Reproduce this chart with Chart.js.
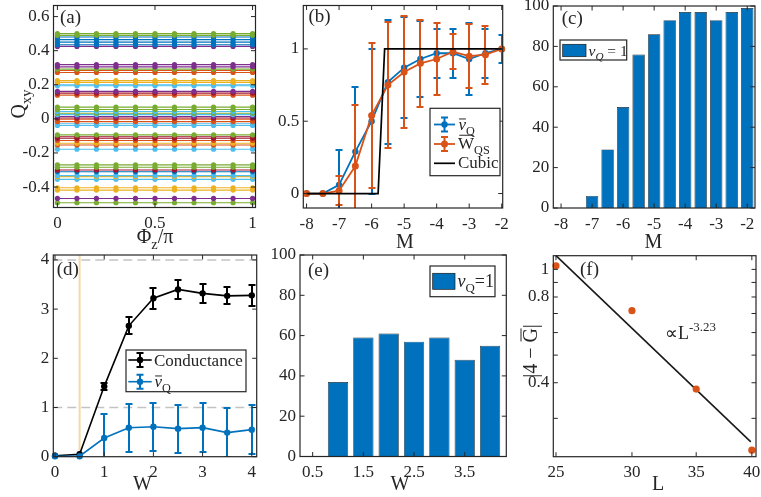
<!DOCTYPE html>
<html><head><meta charset="utf-8">
<script src="https://cdn.jsdelivr.net/npm/chart.js@4.4.1/dist/chart.umd.min.js"></script>
<style>
html,body{margin:0;padding:0;background:#fff;}
#wrap{position:relative;width:761px;height:497px;overflow:hidden;background:#fff;}
#wrap canvas{position:absolute;}
</style></head><body><div id="wrap"></div>
<script>
// ================= DATA =================
// (a) Q_xy vs Phi_z/pi : each line is constant over phi
const phiX = [0, 0.1, 0.2, 0.3, 0.4, 0.5, 0.6, 0.7, 0.8, 0.9, 1];
const qLevels = [0.500, 0.490, 0.480, 0.465, 0.450, 0.435, 0.425,
  0.318, 0.305, 0.292, 0.284, 0.272, 0.224, 0.214, 0.200, 0.194,
  0.161, 0.151, 0.139, 0.069, 0.055, 0.043, 0.033, 0.025, 0.014, 0.005,
  -0.002, -0.016, -0.029, -0.039, -0.094, -0.105, -0.114, -0.127, -0.143,
  -0.153, -0.178, -0.270, -0.284, -0.300, -0.310, -0.333, -0.339, -0.355,
  -0.404, -0.418, -0.467, -0.492];
const aXTicks = [0, 0.5, 1];
const aYTicks = [-0.4, -0.2, 0, 0.2, 0.4, 0.6];

// (b) averages vs M
const bM = [-8, -7.5, -7, -6.5, -6, -5.5, -5, -4.5, -4, -3.5, -3, -2.5, -2];
const nuQ = [0, 0, 0.06, 0.29, 0.50, 0.77, 0.87, 0.93, 0.97, 0.97, 0.93, 0.97, 1.0];
const nuQErr = [0, 0, 0.24, 0.45, 0.50, 0.43, 0.35, 0.26, 0.17, 0.17, 0.25, 0.17, 0.095];
const wQS = [0, 0, 0.02, 0.19, 0.54, 0.75, 0.84, 0.90, 0.93, 0.98, 0.95, 0.96, 1.0];
const wQSErr = [0, 0, 0.10, 0.42, 0.50, 0.435, 0.39, 0.30, 0.25, 0.12, 0.22, 0.20, 0];
const cubicM = [-8, -5.8, -5.6, -2];
const cubicV = [0, 0, 1, 1];
const bXTicks = [-8, -7, -6, -5, -4, -3, -2];
const bYTicks = [0, 0.5, 1];

// (c) percentage nu_Q = 1 vs M
const cM = [-8, -7.5, -7, -6.5, -6, -5.5, -5, -4.5, -4, -3.5, -3, -2.5, -2];
const cPct = [0, 0, 6, 29, 50, 76, 86, 93, 97, 97, 93, 97, 99];
const cYTicks = [0, 20, 40, 60, 80, 100];

// (d) conductance and nu_Q vs W
const dW = [0, 0.5, 1, 1.5, 2, 2.5, 3, 3.5, 4];
const condG = [0.02, 0.05, 1.43, 2.66, 3.22, 3.40, 3.32, 3.27, 3.28];
const condErr = [0, 0, 0.07, 0.17, 0.21, 0.20, 0.20, 0.17, 0.21];
const dNu = [0.01, 0.01, 0.38, 0.59, 0.61, 0.57, 0.59, 0.49, 0.55];
const dNuErr = [0, 0, 0.48, 0.49, 0.49, 0.49, 0.50, 0.49, 0.50];
const dRefY = [1, 4];
const dMarkW = [0.5];
const dXTicks = [0, 1, 2, 3, 4];
const dYTicks = [0, 1, 2, 3, 4];

// (e) percentage nu_Q = 1 vs W
const eW = [0.5, 1, 1.5, 2, 2.5, 3, 3.5, 4];
const ePct = [0, 37, 59, 61, 57, 59, 48, 55];
const eXTicks = [0.5, 1.5, 2.5, 3.5];

// (f) |4 - G| vs L (log-log)
const fL = [25, 30, 35, 40];
const fDev = [1.03, 0.716, 0.38, 0.232];
const fitL = [25, 39.9];
const fitDev = [1.117, 0.248];
const fXTicks = [25, 30, 35, 40];
const fYTicks = [0.4, 0.8, 1];
const fYMinor = [0.3, 0.5, 0.6, 0.7, 0.9];

// ================= STYLE / LAYOUT =================
const MC = {B:'#0072BD', O:'#D95319', Y:'#EDB120', P:'#7E2F8E', G:'#77AC30', LB:'#4DBEEE', R:'#A2142F'};
const qColorKeys = ['G','G','B','B','B','B','P','P','P','G','O','O','Y','Y','LB','LB',
  'P','R','O','G','G','LB','G','LB','P','R','O','O','LB','LB','G','R','R','O','Y',
  'O','LB','G','G','R','B','LB','Y','LB','Y','Y','P','G'];
const OFF = 50, CW = 861, CH = 597, YW = 45, XH = 30;
const FONT = "'Liberation Serif','Times New Roman',serif";
const TXT = '#262626';
Chart.defaults.font.family = FONT;
Chart.defaults.color = TXT;

function rt(ctx, segs, x, y, size, align) {
  const parts = segs.map(s => {
    const fs = (s.sub || s.sup) ? size * 0.72 : size;
    const font = (s.i ? 'italic ' : '') + fs + 'px ' + FONT;
    ctx.font = font;
    return {s, fs, font, w: ctx.measureText(s.t).width};
  });
  const total = parts.reduce((a, p) => a + p.w + (p.s.dx || 0), 0);
  let cx = align === 'center' ? x - total / 2 : align === 'right' ? x - total : x;
  ctx.textAlign = 'left'; ctx.textBaseline = 'alphabetic';
  for (const p of parts) {
    cx += p.s.dx || 0;
    ctx.font = p.font; ctx.fillStyle = TXT;
    const dy = p.s.sub ? size * 0.3 : p.s.sup ? -size * 0.42 : 0;
    ctx.fillText(p.s.t, cx, y + dy);
    if (p.s.o) {
      ctx.save(); ctx.strokeStyle = TXT; ctx.lineWidth = 1;
      ctx.beginPath();
      const oy = y + dy - p.fs * p.s.o;
      ctx.moveTo(cx + p.w * 0.08 + (p.s.ox || 0), oy); ctx.lineTo(cx + p.w * 0.98 + (p.s.ox || 0), oy);
      ctx.stroke(); ctx.restore();
    }
    cx += p.w;
  }
}
function rtRot(ctx, segs, x, y, size) {
  ctx.save(); ctx.translate(x, y); ctx.rotate(-Math.PI / 2);
  rt(ctx, segs, 0, 0, size, 'center'); ctx.restore();
}

const framePlugin = {
  id: 'frame',
  afterDatasetsDraw(chart, args, opts) {
    const ctx = chart.ctx, a = chart.chartArea, xs = chart.scales.x, ys = chart.scales.y;
    ctx.save(); ctx.strokeStyle = TXT; ctx.lineWidth = 1;
    const TL = 4.5;
    const xt = xs.ticks.map(t => t.value).concat(opts.xMinor || []);
    const yt = ys.ticks.map(t => t.value).concat(opts.yMinor || []);
    ctx.beginPath();
    xt.forEach(v => { const p = xs.getPixelForValue(v);
      ctx.moveTo(p, a.bottom); ctx.lineTo(p, a.bottom - TL); ctx.moveTo(p, a.top); ctx.lineTo(p, a.top + TL); });
    yt.forEach(v => { const p = ys.getPixelForValue(v);
      ctx.moveTo(a.left, p); ctx.lineTo(a.left + TL, p); ctx.moveTo(a.right, p); ctx.lineTo(a.right - TL, p); });
    ctx.stroke();
    ctx.lineWidth = 1.2;
    ctx.strokeRect(a.left, a.top, a.right - a.left, a.bottom - a.top);
    ctx.restore();
  }
};
const errPlugin = {
  id: 'errbars',
  beforeDatasetDraw(chart, args) {
    const ds = chart.data.datasets[args.index];
    if (!ds.errs) return;
    const ctx = chart.ctx, a = chart.chartArea, xs = chart.scales.x, ys = chart.scales.y;
    ctx.save(); ctx.beginPath(); ctx.rect(a.left, a.top, a.right - a.left, a.bottom - a.top); ctx.clip();
    ctx.strokeStyle = ds.borderColor; ctx.lineWidth = 2;
    const cw = 3.5;
    ds.data.forEach((p, i) => {
      const e = ds.errs[i]; if (!e) return;
      const px = Math.round(xs.getPixelForValue(p.x));
      const y1 = Math.round(ys.getPixelForValue(p.y - e)), y2 = Math.round(ys.getPixelForValue(p.y + e));
      ctx.beginPath();
      ctx.moveTo(px, y1); ctx.lineTo(px, y2);
      ctx.moveTo(px - cw, y1); ctx.lineTo(px + cw, y1);
      ctx.moveTo(px - cw, y2); ctx.lineTo(px + cw, y2);
      ctx.stroke();
    });
    ctx.restore();
  }
};
Chart.register(framePlugin, errPlugin);

function axis(horiz, type, min, max, ticks, fontSize) {
  return {
    type, min, max, offset: false,
    grid: {display: false, drawTicks: false, offset: false}, border: {display: false},
    afterBuildTicks: s => { s.ticks = ticks.map(v => ({value: v})); },
    afterFit: s => { if (horiz) s.height = XH; else s.width = YW; },
    ticks: {autoSkip: false, maxRotation: 0, minRotation: 0, padding: horiz ? 6 : 4,
      font: {size: fontSize || 17, family: FONT}, color: TXT, callback: v => String(v)}
  };
}
function makeChart(rect, cfg, minor, deco) {
  const c = document.createElement('canvas');
  c.width = CW; c.height = CH;
  c.style.left = -OFF + 'px'; c.style.top = -OFF + 'px';
  c.style.width = CW + 'px'; c.style.height = CH + 'px';
  document.getElementById('wrap').appendChild(c);
  const [l, t, r, b] = rect;
  cfg.options = Object.assign({
    responsive: false, animation: false, devicePixelRatio: 1,
    events: [],
    layout: {padding: {left: l + OFF - YW, top: t + OFF, right: CW - (r + OFF), bottom: CH - (b + OFF) - XH}},
  }, cfg.options);
  cfg.options.plugins = Object.assign({legend: {display: false}, tooltip: {enabled: false}, frame: minor || {}}, cfg.options.plugins || {});
  cfg.plugins = [{
    id: 'deco',
    beforeDatasetsDraw(chart) { if (deco && deco.before) { chart.ctx.save(); deco.before(chart); chart.ctx.restore(); } },
    afterDraw(chart) { if (deco && deco.after) { const ctx = chart.ctx; ctx.save(); ctx.translate(OFF, OFF); deco.after(ctx, chart); ctx.restore(); } }
  }];
  return new Chart(c, cfg);
}
const pts = (xs, ys) => xs.map((x, i) => ({x, y: ys[i]}));
function lineDs(data, color, o) {
  return Object.assign({data, borderColor: color, backgroundColor: color, showLine: true, borderWidth: 1.8,
    pointRadius: 3.2, pointBorderWidth: 0, pointBackgroundColor: color, clip: false}, o || {});
}
function legendBox(ctx, x1, y1, x2, y2) {
  ctx.fillStyle = '#fff'; ctx.fillRect(x1, y1, x2 - x1, y2 - y1);
  ctx.strokeStyle = TXT; ctx.lineWidth = 1.2; ctx.strokeRect(x1, y1, x2 - x1, y2 - y1);
}
function legendLine(ctx, x1, x2, y, color, marker, err, lw) {
  ctx.strokeStyle = color; ctx.lineWidth = lw || 1.8;
  ctx.beginPath(); ctx.moveTo(x1, y); ctx.lineTo(x2, y); ctx.stroke();
  const xm = (x1 + x2) / 2;
  if (err) {
    ctx.lineWidth = 2; ctx.beginPath();
    ctx.moveTo(xm, y - err); ctx.lineTo(xm, y + err);
    ctx.moveTo(xm - 3.5, y - err); ctx.lineTo(xm + 3.5, y - err);
    ctx.moveTo(xm - 3.5, y + err); ctx.lineTo(xm + 3.5, y + err);
    ctx.stroke();
  }
  if (marker) { ctx.fillStyle = color; ctx.beginPath(); ctx.arc(xm, y, marker, 0, 2 * Math.PI); ctx.fill(); }
}
function legendPatch(ctx, x1, y1, x2, y2) {
  ctx.fillStyle = MC.B; ctx.fillRect(x1, y1, x2 - x1, y2 - y1);
  ctx.strokeStyle = '#1a1a1a'; ctx.lineWidth = 0.7; ctx.strokeRect(x1, y1, x2 - x1, y2 - y1);
}
function panelLabel(ctx, s, x, y) { rt(ctx, [{t: s}], x, y, 19, 'left'); }
const AX = 20;

// ================= (a) =================
makeChart([53.5, 5.5, 255.5, 207.5], {
  type: 'scatter',
  data: {datasets: qLevels.map((lv, i) => lineDs(phiX.map(x => ({x, y: lv})), MC[qColorKeys[i]],
    {borderWidth: 1.1, pointRadius: 2.6}))},
  options: {scales: {x: axis(true, 'linear', -0.02, 1.015, aXTicks), y: axis(false, 'linear', -0.52, 0.665, aYTicks)}}
}, {}, {
  after(ctx) {
    panelLabel(ctx, '(a)', 60, 23);
    rtRot(ctx, [{t: 'Q'}, {t: 'xy', sub: 1}], 25, 104, AX);
    rt(ctx, [{t: 'Φ'}, {t: 'z', sub: 1}, {t: '/π'}], 155, 243, AX, 'center');
  }
});

// ================= (b) =================
makeChart([303.3, 5.5, 502.7, 208], {
  type: 'scatter',
  data: {datasets: [
    lineDs(pts(cubicM, cubicV), '#000000', {pointRadius: 0, borderWidth: 1.7}),
    lineDs(pts(bM, wQS), MC.O, {errs: wQSErr, pointRadius: 3.5}),
    lineDs(pts(bM, nuQ), MC.B, {errs: nuQErr, pointRadius: 3.2})
  ]},
  options: {scales: {x: axis(true, 'linear', -8.1, -1.97, bXTicks), y: axis(false, 'linear', -0.1, 1.3, bYTicks)}}
}, {}, {
  after(ctx) {
    panelLabel(ctx, '(b)', 308.5, 22);
    rt(ctx, [{t: 'M'}], 405, 248, AX, 'center');
    legendBox(ctx, 430, 108.3, 500, 175.7);
    legendLine(ctx, 434, 455, 124.5, MC.B, 3.2, 7);
    legendLine(ctx, 434, 455, 144, MC.O, 3.5, 7);
    legendLine(ctx, 434, 455, 163.3, '#000', 0, 0, 1.7);
    rt(ctx, [{t: 'ν', i: 1, o: 0.62}, {t: 'Q', sub: 1}], 458.5, 129.5, 17, 'left');
    rt(ctx, [{t: 'W', o: 0.78}, {t: 'QS', sub: 1}], 458, 148.5, 17, 'left');
    rt(ctx, [{t: 'Cubic'}], 458, 168.3, 17, 'left');
  }
});

// ================= (c) =================
makeChart([553.3, 6, 755, 208], {
  type: 'bar',
  data: {datasets: [{data: pts(cM, cPct), backgroundColor: MC.B, borderColor: '#1f1f1f', borderWidth: 0.7,
    barPercentage: 0.8, categoryPercentage: 1}]},
  options: {scales: {x: axis(true, 'linear', -8.25, -1.75, bXTicks), y: axis(false, 'linear', 0, 100, cYTicks)}}
}, {}, {
  after(ctx) {
    panelLabel(ctx, '(c)', 561.7, 24);
    rt(ctx, [{t: 'M'}], 653.5, 248, AX, 'center');
    legendBox(ctx, 560, 40, 626.7, 60);
    legendPatch(ctx, 562.7, 44.3, 586, 56.7);
    rt(ctx, [{t: 'ν', i: 1}, {t: 'Q', i: 1, sub: 1}, {t: ' = 1'}], 588.5, 55.5, 15.5, 'left');
  }
});

// ================= (d) =================
makeChart([53.3, 255, 256.7, 456.7], {
  type: 'scatter',
  data: {datasets: [
    lineDs(pts(dW, dNu), MC.B, {errs: dNuErr, pointRadius: 3.2, borderWidth: 1.6}),
    lineDs(pts(dW, condG), '#000000', {errs: condErr, pointRadius: 3.2, borderWidth: 1.6})
  ]},
  options: {scales: {x: axis(true, 'linear', -0.035, 4.1, dXTicks), y: axis(false, 'linear', 0, 4.1, dYTicks)}}
}, {}, {
  before(chart) {
    const ctx = chart.ctx, a = chart.chartArea, xs = chart.scales.x, ys = chart.scales.y;
    ctx.strokeStyle = '#c3c3c3'; ctx.lineWidth = 1.5; ctx.setLineDash([9, 5]);
    dRefY.forEach(v => { const p = ys.getPixelForValue(v); ctx.beginPath(); ctx.moveTo(a.left, p); ctx.lineTo(a.right, p); ctx.stroke(); });
    ctx.setLineDash([]);
    ctx.strokeStyle = '#F2DBA6'; ctx.lineWidth = 2;
    dMarkW.forEach(v => { const p = xs.getPixelForValue(v); ctx.beginPath(); ctx.moveTo(p, a.top); ctx.lineTo(p, a.bottom); ctx.stroke(); });
  },
  after(ctx) {
    panelLabel(ctx, '(d)', 56.7, 275);
    rt(ctx, [{t: 'W'}], 142.5, 490, AX, 'center');
    legendBox(ctx, 126, 350, 246, 391.7);
    legendLine(ctx, 128.3, 151.7, 360, '#000', 3.2, 7, 1.6);
    legendLine(ctx, 128.3, 151.7, 381.7, MC.B, 3.2, 7, 1.6);
    rt(ctx, [{t: 'Conductance'}], 154, 366, 17, 'left');
    rt(ctx, [{t: 'ν', i: 1, o: 0.62}, {t: 'Q', sub: 1}], 154.5, 386.5, 17, 'left');
  }
});

// ================= (e) =================
makeChart([300, 255, 506.3, 456.5], {
  type: 'bar',
  data: {datasets: [{data: pts(eW, ePct), backgroundColor: MC.B, borderColor: '#1f1f1f', borderWidth: 0.7,
    barPercentage: 0.8, categoryPercentage: 1}]},
  options: {scales: {x: axis(true, 'linear', 0.25, 4.32, eXTicks), y: axis(false, 'linear', 0, 100, cYTicks)}}
}, {}, {
  after(ctx) {
    panelLabel(ctx, '(e)', 308, 276);
    rt(ctx, [{t: 'W'}], 400, 490, AX, 'center');
    legendBox(ctx, 430, 266, 495, 296.7);
    legendPatch(ctx, 432.7, 273.3, 455, 289.3);
    rt(ctx, [{t: 'ν', i: 1}, {t: 'Q', sub: 1}, {t: '=1'}], 457.5, 286.5, 18, 'left');
  }
});

// ================= (f) =================
makeChart([553.3, 255.7, 756, 456.7], {
  type: 'scatter',
  data: {datasets: [
    lineDs(pts(fL, fDev), MC.O, {showLine: false, pointRadius: 3.6}),
    lineDs(pts(fitL, fitDev), '#1a1a1a', {pointRadius: 0, borderWidth: 1.6})
  ]},
  options: {scales: {x: axis(true, 'logarithmic', 24.84, 40.4, fXTicks), y: axis(false, 'logarithmic', 0.22, 1.117, fYTicks)}}
}, {yMinor: fYMinor}, {
  after(ctx) {
    panelLabel(ctx, '(f)', 580, 274.7);
    rt(ctx, [{t: 'L'}], 658, 490, AX, 'center');
    rtRot(ctx, [{t: '|4 − '}, {t: 'G', o: 0.8}, {t: '|'}], 537, 351, AX);
    rt(ctx, [{t: '∝L'}, {t: '-3.23', sup: 1}], 665, 339, 18, 'left');
  }
});
</script></body></html>
